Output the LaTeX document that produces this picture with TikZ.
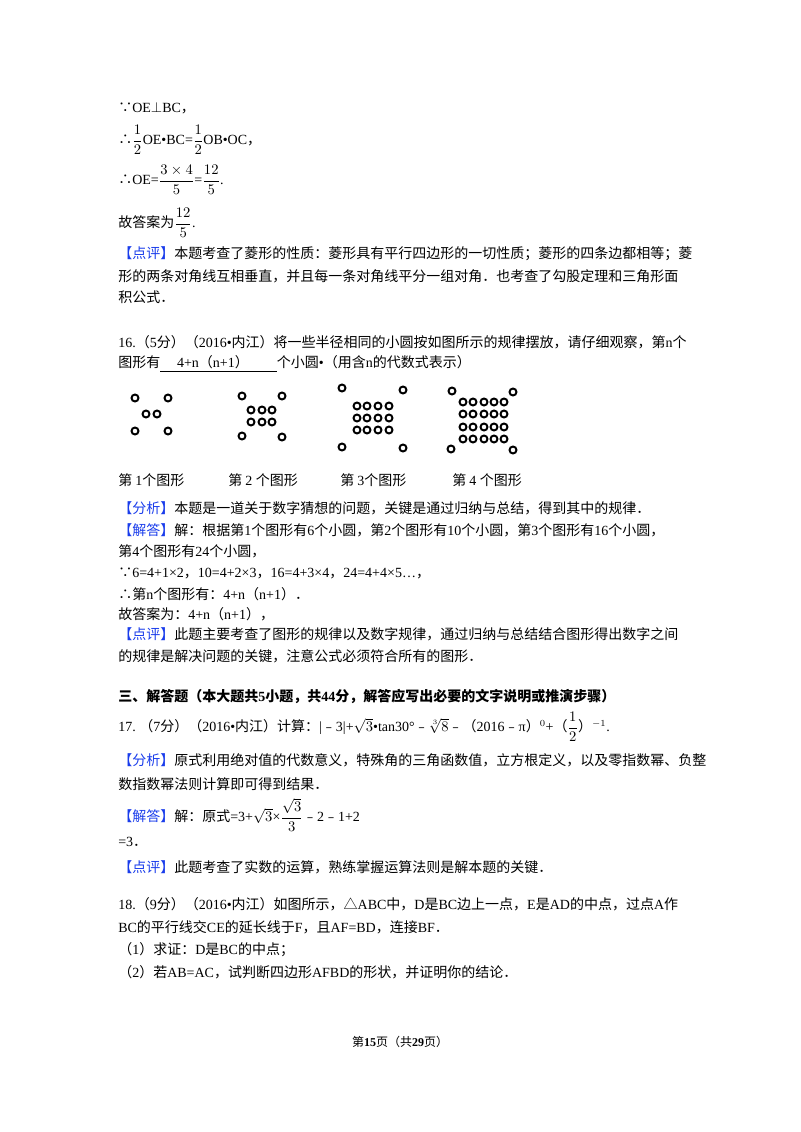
\documentclass[tikz,border=0pt]{standalone}
\usepackage{amsmath}
\usepackage{fontspec}
\setmainfont{Liberation Serif}
\newfontfamily\latin{Liberation Serif}
\newfontfamily\cjk{Noto Sans CJK SC}
\XeTeXinterchartokenstate=1
\newXeTeXintercharclass\CJKcls
\newcount\cc
\cc="4E00 \loop \XeTeXcharclass\cc=\CJKcls \advance\cc 1 \ifnum\cc<"A000 \repeat
\cc="3000 \loop \XeTeXcharclass\cc=\CJKcls \advance\cc 1 \ifnum\cc<"3040 \repeat
\cc="FF00 \loop \XeTeXcharclass\cc=\CJKcls \advance\cc 1 \ifnum\cc<"FFF0 \repeat
\cc="FE30 \loop \XeTeXcharclass\cc=\CJKcls \advance\cc 1 \ifnum\cc<"FE70 \repeat
\XeTeXcharclass"2234=\CJKcls \XeTeXcharclass"2235=\CJKcls \XeTeXcharclass"25B3=\CJKcls
\XeTeXinterchartoks 0 \CJKcls = {\cjk}
\XeTeXinterchartoks 4095 \CJKcls = {\cjk}
\XeTeXinterchartoks \CJKcls 0 = {\latin}
\XeTeXinterchartoks 4095 0 = {\latin}
\definecolor{tag}{RGB}{25,60,235}
\newcommand\tg[1]{\textcolor{tag}{#1}}
\begin{document}
\begin{tikzpicture}[x=0.75pt,y=-0.75pt,
  ln/.style={anchor=west,inner sep=0pt,font=\fontsize{10.5pt}{12pt}\selectfont},
  dot/.style={circle,draw,line width=1.5pt,minimum size=5.2pt,inner sep=0pt}]
\useasboundingbox (0,0) rectangle (800,1132);
\node[ln] (l1) at (118,108) {∵OE$\perp$BC，};
\node[ln] (l2) at (118,140) {∴$\dfrac{1}{2}$\latin OE•BC=$\dfrac{1}{2}$\latin OB•OC，};
\node[ln] (l3) at (118,180) {∴OE=$\dfrac{3\times4}{5}$=$\dfrac{12}{5}$.};
\node[ln] (l4) at (118,223) {故答案为$\dfrac{12}{5}$.};
\node[ln] (l5) at (118,254) {\tg{【点评】}本题考查了菱形的性质：菱形具有平行四边形的一切性质；菱形的四条边都相等；菱};
\node[ln] (l6) at (118,276) {形的两条对角线互相垂直，并且每一条对角线平分一组对角．也考查了勾股定理和三角形面};
\node[ln] (l7) at (118,297) {积公式．};
\node[ln] (l8) at (118,342) {16.（5分）（2016•内江）将一些半径相同的小圆按如图所示的规律摆放，请仔细观察，第n个};
\node[ln] (l9) at (118,364) {图形有\underline{\hspace{1.2em}4+n（n+1）\hspace{2em}}个小圆•（用含n的代数式表示）};
% figures
\foreach \p in {(135,398),(168,398),(146,414),(157,414),(135,431),(168,431),
 (242,396),(282,396),(242,436),(282,437),
 (342,388),(403,390),(342,447),(403,448),
 (452,391),(513,392),(451,449),(513,450)} \node[dot] at \p {};
\foreach \x in {251,262,272} \foreach \y in {410,422} \node[dot] at (\x,\y) {};
\foreach \x in {357,367,378,389} \foreach \y in {406,418,430} \node[dot] at (\x,\y) {};
\foreach \x in {463,473,484,494,504} \foreach \y in {402,414,427,439} \node[dot] at (\x,\y) {};
\node[ln] (f1) at (118,480) {第 1个图形};
\node[ln] (f2) at (228,480) {第\ 2 个图形};
\node[ln] (f3) at (340,480) {第 3个图形};
\node[ln] (f4) at (452,480) {第\ 4 个图形};
\node[ln] at (118,508) {\tg{【分析】}本题是一道关于数字猜想的问题，关键是通过归纳与总结，得到其中的规律．};
\node[ln] at (118,530) {\tg{【解答】}解：根据第1个图形有6个小圆，第2个图形有10个小圆，第3个图形有16个小圆，};
\node[ln] at (118,551) {第4个图形有24个小圆，};
\node[ln] at (118,573) {∵6=4+1×2，10=4+2×3，16=4+3×4，24=4+4×5…，};
\node[ln] at (118,594) {∴第n个图形有：4+n（n+1）．};
\node[ln] at (118,614) {故答案为：4+n（n+1），};
\node[ln] at (118,634) {\tg{【点评】}此题主要考查了图形的规律以及数字规律，通过归纳与总结结合图形得出数字之间};
\node[ln] at (118,656) {的规律是解决问题的关键，注意公式必须符合所有的图形．};
\node[ln] at (118,696) {\bfseries 三、解答题（本大题共5小题，共44分，解答应写出必要的文字说明或推演步骤）};
\node[ln] at (118,727) {17.\ （7分）（2016•内江）计算：|﹣3|+$\sqrt{3}$\latin •tan30°﹣$\sqrt[3]{8}$﹣（2016﹣π）$^{0}$+（$\dfrac{1}{2}$）$^{-1}$.};
\node[ln] at (118,760) {\tg{【分析】}原式利用绝对值的代数意义，特殊角的三角函数值，立方根定义，以及零指数幂、负整};
\node[ln] at (118,784) {数指数幂法则计算即可得到结果．};
\node[ln] at (118,815) {\tg{【解答】}解：原式=3+$\sqrt{3}$×$\dfrac{\sqrt{3}}{3}$﹣2﹣1+2};
\node[ln] at (118,842) {=3．};
\node[ln] at (118,867) {\tg{【点评】}此题考查了实数的运算，熟练掌握运算法则是解本题的关键．};
\node[ln] at (118,904) {18.（9分）（2016•内江）如图所示，△ABC中，D是BC边上一点，E是AD的中点，过点A作};
\node[ln] at (118,927) {BC的平行线交CE的延长线于F，且AF=BD，连接BF．};
\node[ln] at (118,950) {（1）求证：D是BC的中点；};
\node[ln] at (118,972) {（2）若AB=AC，试判断四边形AFBD的形状，并证明你的结论．};
\node[anchor=center,inner sep=0pt,font=\fontsize{9pt}{10pt}\selectfont] at (400,1042) {第\textbf{15}页（共\textbf{29}页）};
\end{tikzpicture}
\end{document}
